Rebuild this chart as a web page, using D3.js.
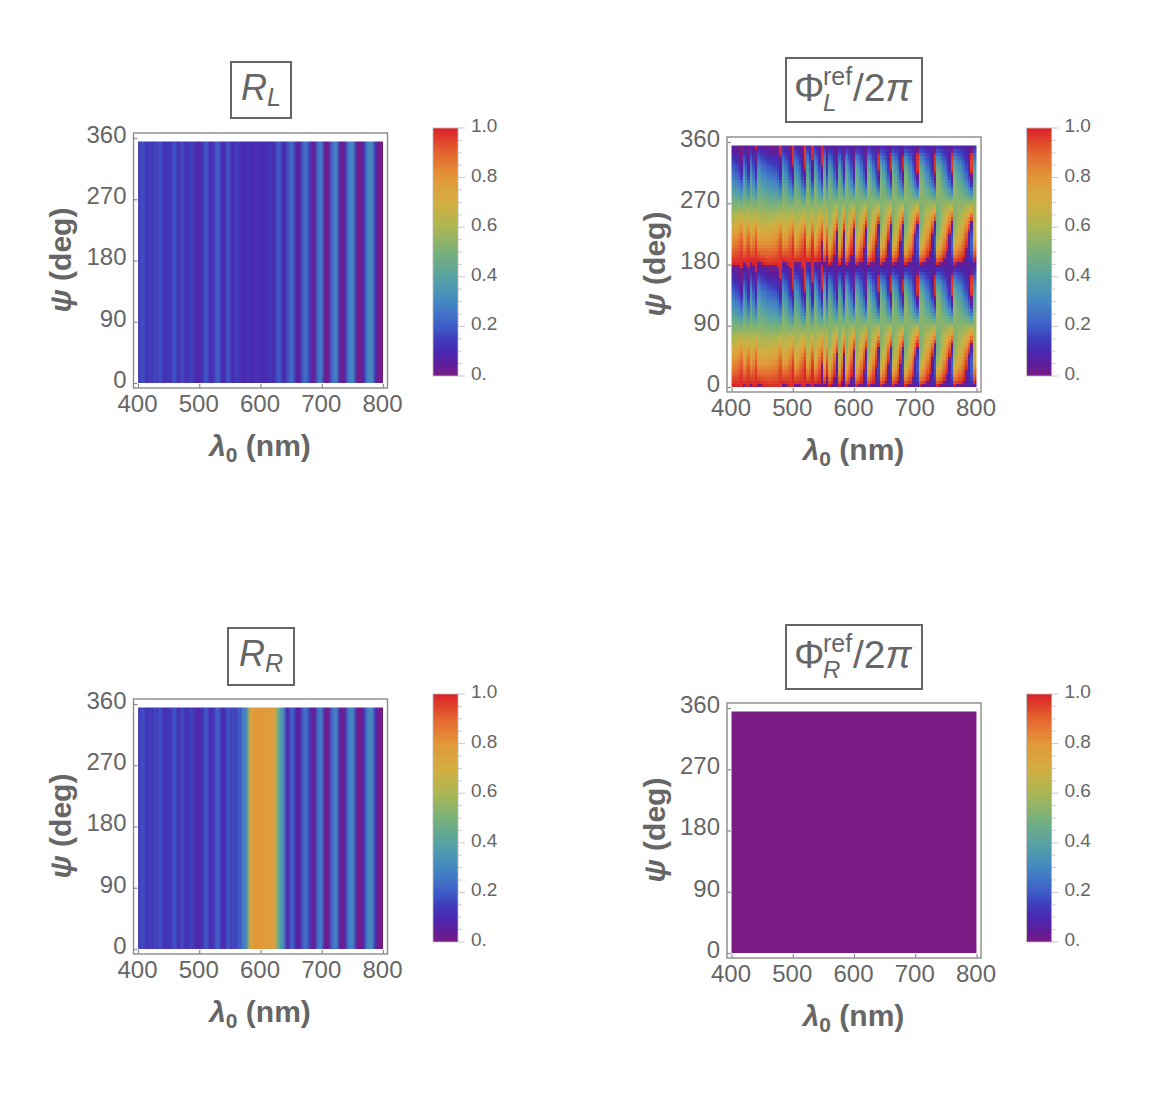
<!DOCTYPE html>
<html><head><meta charset="utf-8">
<script src="https://cdn.jsdelivr.net/npm/d3@7"></script>
<style>html,body{margin:0;background:#fff}svg{display:block}text{font-family:"Liberation Sans",Arial,sans-serif;fill:#666}</style>
</head><body><div id="chart"></div>
<script>
// wavelength samples, nm (every 4 nm, 400..800)
const lambdaSamples = d3.range(400, 801, 4);
const xTicks = [400, 500, 600, 700, 800];
const yTicks = [0, 90, 180, 270, 360];
const barTicks = d3.range(0, 1.001, 0.05);
const barLabels = [[0,"0."],[0.2,"0.2"],[0.4,"0.4"],[0.6,"0.6"],[0.8,"0.8"],[1,"1.0"]];
const psiRows = d3.range(0, 355, 5);

const reflectL = [
 .13,.16,.19,.14,.11,.17,.12,.18,.14,.21,
 .14,.11,.14,.12,.16,.21,.13,.11,.20,.13,
 .11,.14,.17,.12,.09,.08,.12,.16,.20,.12,
 .10,.14,.20,.22,.11,.09,.15,.20,.11,.10,
 .16,.13,.11,.10,.11,.13,.115,.10,.12,.125,
 .11,.10,.115,.12,.13,.11,.12,.19,.21,.11,
 .09,.18,.22,.23,.14,.05,.06,.18,.24,.25,
 .15,.03,.04,.21,.27,.27,.08,.01,.03,.21,
 .28,.28,.11,.02,.02,.14,.27,.30,.28,.07,
 .01,.01,.09,.25,.30,.31,.29,.11,.02,.01,.01];
const reflectR = [
 .13,.16,.19,.14,.11,.17,.12,.18,.14,.21,
 .14,.11,.14,.12,.16,.21,.13,.11,.20,.13,
 .11,.14,.17,.12,.09,.08,.12,.16,.20,.12,
 .10,.14,.20,.22,.11,.09,.15,.20,.12,.18,
 .13,.21,.18,.30,.26,.48,.76,.79,.80,.80,
 .80,.79,.79,.79,.78,.78,.76,.50,.38,.34,
 .22,.07,.18,.23,.14,.05,.06,.18,.24,.25,
 .15,.03,.04,.21,.27,.27,.08,.01,.03,.21,
 .28,.28,.11,.02,.02,.14,.27,.30,.28,.07,
 .01,.01,.09,.25,.30,.31,.29,.11,.02,.01,.01];
// reflection phase of L: value at the top of the cycle, per wavelength sample
const phaseStart = [
 .00,.01,.00,.00,-.01,.03,.01,-.01,.04,.01,
 -.01,.04,.02,.01,.00,-.01,-.01,-.01,-.01,-.01,
 -.02,.05,.03,.01,-.01,-.02,.04,.03,.02,-.01,
 -.02,.05,.02,-.01,.05,.04,.02,.00,.05,.02,
 .02,.03,.04,.05,.02,.04,.05,.02,.03,.05,
 .06,.02,.03,.04,.05,.07,.02,.03,.04,.06,
 .07,.02,.03,.05,.06,.07,.02,.03,.05,.06,
 .08,.02,.03,.04,.05,.07,.08,.02,.03,.04,
 .05,.06,.07,.08,.02,.03,.04,.05,.06,.07,
 .08,.03,.03,.04,.04,.05,.06,.07,.08,.05,.07];
// how strongly the phase bends over the cycle, per wavelength sample
const phaseBend = [
 0,-.02,-.04,-.07,-.12,.04,-.02,-.12,.05,-.03,
 -.14,.06,.04,.02,.01,0,-.01,-.02,-.03,-.06,
 -.14,.07,.03,-.02,-.09,-.18,.09,.04,-.03,-.11,
 -.20,.11,0,-.17,.12,.05,-.07,-.20,.13,-.12,
 .13,.04,-.08,-.22,.14,-.03,-.22,.16,.05,-.08,
 -.25,.18,.10,0,-.12,-.27,.20,.11,0,-.13,
 -.30,.20,.11,0,-.14,-.30,.22,.12,0,-.14,
 -.30,.22,.14,.05,-.05,-.17,-.32,.22,.16,.08,
 0,-.08,-.18,-.33,.23,.17,.09,.01,-.08,-.18,
 -.34,.20,.15,.09,.03,-.03,-.10,-.20,-.34,.12,.08];
// reflection phase of R: flat at zero
const phaseR = lambdaSamples.map(() => 0);

const colorStops = [0,.05,.1,.15,.2,.3,.4,.5,.6,.7,.8,.9,1];
const colorValues = ["#7a1c84","#5c1e9c","#4a28b0","#3f3dbc","#3f5cc8","#4488c2","#57a2a4","#79b17a","#aab653","#d3ae40","#e29838","#e4662f","#da2128"];
const color = d3.scaleLinear().domain(colorStops).range(colorValues).clamp(true);

const svg = d3.select("#chart").append("svg").attr("width",1152).attr("height",1108);
const defs = svg.append("defs");
[["softBands","1.0 0"],["softPhase","0.7 0.5"]].forEach(([id,sd])=>{
  defs.append("filter").attr("id",id).attr("filterUnits","userSpaceOnUse")
    .attr("x",0).attr("y",0).attr("width",1152).attr("height",1108)
    .attr("color-interpolation-filters","sRGB")
    .append("feGaussianBlur").attr("stdDeviation",sd);
});

const phaseAt = (i, psi) => {
  const u = (360 - psi) / 180;
  const v = phaseStart[i] + u + phaseBend[i] * Math.sin(2 * Math.PI * u);
  return v - Math.floor(v);
};

const panels = [
 {id:"a", dx:0, dy:0, barY:128, box:[231,62,60,56], kind:"bands", values:reflectL},
 {id:"b", dx:593.5, dy:4, barY:128, box:[786,58,136,64], kind:"phase"},
 {id:"c", dx:0, dy:566, barY:694, box:[228,628,66,57], kind:"bands", values:reflectR},
 {id:"d", dx:593.5, dy:570, barY:694, box:[786,625,136,64], kind:"bands", values:phaseR}
];

panels.forEach(p => {
  const g = svg.append("g").attr("transform",`translate(${p.dx},${p.dy})`);
  const x = d3.scaleLinear().domain([400,800]).range([138,383]);
  const y = d3.scaleLinear().domain([0,360]).range([383,138]);

  const clip = "clip-"+p.id;
  defs.append("clipPath").attr("id",clip).append("rect")
    .attr("x",x(400)).attr("y",y(355)).attr("width",x(800)-x(400)).attr("height",y(0)-y(355));
  const img = g.append("g").attr("clip-path",`url(#${clip})`).append("g")
    .attr("filter",p.kind==="bands" ? "url(#softBands)" : "url(#softPhase)");
  if (p.kind === "bands") {
    img.selectAll("rect").data(p.values).join("rect")
      .attr("x",(d,i)=>x(lambdaSamples[i]-2)).attr("width",x(404)-x(400)+.5)
      .attr("y",y(360)).attr("height",y(0)-y(360)+4)
      .attr("shape-rendering","crispEdges").attr("fill",d=>color(d));
  } else {
    lambdaSamples.forEach((l,i)=>{
      img.append("g").selectAll("rect").data(psiRows).join("rect")
        .attr("x",x(l-2)).attr("width",x(404)-x(400)+.5)
        .attr("y",d=>y(d+5)).attr("height",y(0)-y(5)+.5)
        .attr("shape-rendering","crispEdges").attr("fill",d=>color(phaseAt(i,d+2.5)));
    });
  }

  // frame
  g.append("rect").attr("x",133.5).attr("y",133).attr("width",254).attr("height",255)
    .attr("fill","none").attr("stroke","#8a8a8a").attr("stroke-width",1.4);

  const ax = g.append("g").attr("transform","translate(0,388)")
    .call(d3.axisBottom(x).tickValues(xTicks).tickSize(-4).tickPadding(8).tickFormat(d3.format("d")));
  ax.select(".domain").remove();
  ax.selectAll("line").attr("stroke","#8a8a8a").attr("stroke-width",1.2);
  ax.selectAll("text").attr("font-size",24).attr("fill","#666").attr("x",-1).attr("y",6.5).attr("dy","0.71em");

  const ay = g.append("g").attr("transform","translate(133.5,0)")
    .call(d3.axisLeft(y).tickValues(yTicks).tickSize(-4).tickPadding(7).tickFormat(d3.format("d")));
  ay.select(".domain").remove();
  ay.selectAll("line").attr("stroke","#8a8a8a").attr("stroke-width",1.2);
  ay.selectAll("text").attr("font-size",24).attr("fill","#666").attr("dy","0.18em");

  const xl = g.append("text").attr("x",260).attr("y",456).attr("text-anchor","middle").attr("font-size",30).attr("font-weight","bold");
  xl.append("tspan").attr("font-style","italic").text("λ");
  xl.append("tspan").attr("font-size",21).attr("dy",6).text("0");
  xl.append("tspan").attr("dy",-6).text(" (nm)");

  const yl = g.append("text").attr("transform","translate(71,260) rotate(-90)").attr("text-anchor","middle").attr("font-size",30).attr("font-weight","bold");
  yl.append("tspan").attr("font-style","italic").text("ψ");
  yl.append("tspan").text(" (deg)");

  // colour bar
  const bar = svg.append("g").attr("transform",`translate(${p.dx},0)`);
  const by = d3.scaleLinear().domain([0,1]).range([p.barY+248,p.barY]);
  bar.append("g").selectAll("rect").data(d3.range(0,1,0.005)).join("rect")
    .attr("x",433).attr("width",25).attr("y",d=>by(d+0.005)).attr("height",by(0)-by(0.005)+.4)
    .attr("shape-rendering","crispEdges").attr("fill",d=>color(d+0.0025));
  bar.append("rect").attr("x",433).attr("y",by(1)).attr("width",25).attr("height",248)
    .attr("fill","none").attr("stroke","#bbb").attr("stroke-width",.8);
  bar.append("g").selectAll("line").data(barTicks).join("line")
    .attr("x1",458).attr("y1",d=>by(d)).attr("y2",d=>by(d))
    .attr("x2",(d,i)=> i%4===0 ? 465 : 462)
    .attr("stroke","#bdbdbd").attr("stroke-width",.8);
  bar.append("g").selectAll("text").data(barLabels).join("text")
    .attr("x",471).attr("y",d=>by(d[0])+4).attr("font-size",19).text(d=>d[1]);

  // title
  const [bx,byy,bw,bh] = p.box;
  svg.append("rect").attr("x",bx).attr("y",byy).attr("width",bw).attr("height",bh)
    .attr("fill","#fff").attr("stroke","#666").attr("stroke-width",2);
});

function simpleTitle(cx, base, sub){
  const t = svg.append("text").attr("x",cx).attr("y",base).attr("text-anchor","middle").attr("font-size",36).attr("font-style","italic");
  t.append("tspan").text("R");
  t.append("tspan").attr("font-size",25).attr("dy",6).text(sub);
}
simpleTitle(261,100,"L");
simpleTitle(261,666,"R");

function phaseTitle(left, base, sub){
  svg.append("text").attr("x",left).attr("y",base).attr("font-size",38).text("Φ");
  svg.append("text").attr("x",left+29).attr("y",base-16).attr("font-size",25).text("ref");
  svg.append("text").attr("x",left+29).attr("y",base+10).attr("font-size",24).attr("font-style","italic").text(sub);
  const t = svg.append("text").attr("x",left+59).attr("y",base).attr("font-size",39);
  t.append("tspan").text("/2");
  t.append("tspan").attr("font-style","italic").text("π");
}
phaseTitle(794,101,"L");
phaseTitle(794,668,"R");
</script></body></html>
